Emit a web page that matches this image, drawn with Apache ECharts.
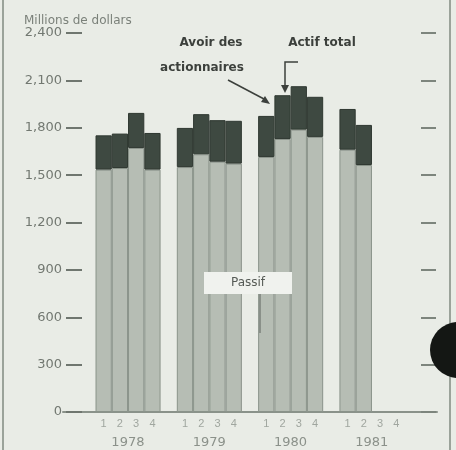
<!DOCTYPE html>
<html>
<head>
<meta charset="utf-8">
<script src="https://cdn.jsdelivr.net/npm/echarts@6/dist/echarts.min.js"></script>
<style>
  html, body { margin: 0; padding: 0; background: #e9ece6; }
  #main { width: 456px; height: 450px; }
</style>
</head>
<body>
<div id="main"></div>
<script>
// valeurs (millions de dollars)
const years = ['1978', '1979', '1980', '1981'];
const quarters = ['1', '2', '3', '4'];
const passif = [
    [1535, 1545, 1672, 1535],
    [1551, 1632, 1585, 1573],
    [1615, 1729, 1788, 1742],
    [1661, 1564, null, null]
];
const avoir = [
    [217, 218, 222, 232],
    [248, 254, 263, 271],
    [260, 277, 275, 254],
    [258, 254, null, null]
];
const yTicks = [0, 300, 600, 900, 1200, 1500, 1800, 2100, 2400];

(function() {
    // axe: 2 cases vides, 4 trimestres par annee separes d'une case vide, 2 cases vides
    let cats = ['', ''], yearCats = ['', ''], passifData = ['-', '-'], avoirData = ['-', '-'];
    years.forEach(function(y, i) {
        quarters.forEach(function(q, j) {
            cats.push(q);
            yearCats.push(j === 1 ? y : '');
            passifData.push(passif[i][j] == null ? '-' : passif[i][j]);
            avoirData.push(avoir[i][j] == null ? '-' : avoir[i][j]);
        });
        if (i < years.length - 1) {
            cats.push(' ');
            yearCats.push('');
            passifData.push('-');
            avoirData.push('-');
        }
    });
    cats.push('', '');
    yearCats.push('', '');
    passifData.push('-', '-');
    avoirData.push('-', '-');

    let font = "'Liberation Sans', Arial, sans-serif";
    let wide = "'DejaVu Sans', sans-serif";
    let chart = echarts.init(document.getElementById('main'));
    let option = {
        backgroundColor: '#e9ece6',
        animation: false,
        title: {
            text: 'Millions de dollars', left: 19, top: 10,
            textStyle: {fontFamily: wide, fontSize: 12, fontWeight: 'normal', color: '#7b817a'}
        },
        grid: {left: 63, right: 19, top: 33, bottom: 38},
        xAxis: [{
            type: 'category', data: cats,
            axisLine: {lineStyle: {color: '#8a928a', width: 2}},
            axisTick: {show: false},
            axisLabel: {interval: 0, margin: 6, fontFamily: font, fontSize: 11, color: '#a0a69f'}
        }, {
            type: 'category', data: yearCats, position: 'bottom',
            axisLine: {show: false}, axisTick: {show: false},
            axisLabel: {interval: 0, margin: 24, padding: [0, 0, 0, 16], fontFamily: wide, fontSize: 13, color: '#8b918a'}
        }],
        yAxis: [{
            type: 'value', min: yTicks[0], max: yTicks[yTicks.length - 1], interval: yTicks[1] - yTicks[0],
            offset: -3,
            axisLine: {show: false},
            axisTick: {show: true, inside: true, length: 16, lineStyle: {color: '#6f766f', width: 2}},
            splitLine: {show: false},
            axisLabel: {
                margin: 4, fontFamily: wide, fontSize: 13, color: '#727871',
                formatter: function(v) { return v.toLocaleString('en-US'); }
            }
        }, {
            type: 'value', position: 'right', min: yTicks[0], max: yTicks[yTicks.length - 1], interval: yTicks[1] - yTicks[0],
            offset: -1,
            axisLine: {show: false},
            axisTick: {show: true, inside: true, length: 15, lineStyle: {color: '#7d857d', width: 2}},
            splitLine: {show: false},
            axisLabel: {show: false}
        }],
        series: [{
            name: 'Passif', type: 'bar', stack: 'actif', data: passifData,
            barCategoryGap: '0%',
            itemStyle: {color: '#b6bdb4', borderColor: '#8a938a', borderWidth: 1, borderRadius: 0}
        }, {
            name: 'Avoir des actionnaires', type: 'bar', stack: 'actif', data: avoirData,
            barCategoryGap: '0%',
            itemStyle: {color: '#3e4941', borderColor: '#2f3831', borderWidth: 1, borderRadius: 0}
        }],
        graphic: [
            {type: 'line', z: 10, shape: {x1: 3, y1: 0, x2: 3, y2: 450}, style: {stroke: '#9ba39a', lineWidth: 2}},
            {type: 'line', z: 10, shape: {x1: 450, y1: 0, x2: 450, y2: 450}, style: {stroke: '#9ba39a', lineWidth: 2}},
            {type: 'text', z: 10, x: 211, y: 43, style: {text: 'Avoir des', font: "bold 12px " + wide, fill: '#3c403c', align: 'center', verticalAlign: 'middle'}},
            {type: 'text', z: 10, x: 202, y: 68, style: {text: 'actionnaires', font: "bold 12px " + wide, fill: '#3c403c', align: 'center', verticalAlign: 'middle'}},
            {type: 'text', z: 10, x: 322, y: 43, style: {text: 'Actif total', font: "bold 12px " + wide, fill: '#3c403c', align: 'center', verticalAlign: 'middle'}},
            {type: 'polyline', z: 10, shape: {points: [[228, 80], [264, 99]]}, style: {stroke: '#3c403c', lineWidth: 1.5}},
            {type: 'polygon', z: 10, shape: {points: [[270, 104], [261, 102], [265, 96]]}, style: {fill: '#3c403c'}},
            {type: 'polyline', z: 10, shape: {points: [[298, 62], [285, 62], [285, 86]]}, style: {stroke: '#3c403c', lineWidth: 1.5}},
            {type: 'polygon', z: 10, shape: {points: [[285, 93], [281, 85], [289, 85]]}, style: {fill: '#3c403c'}},
            {type: 'rect', z: 10, shape: {x: 204, y: 272, width: 88, height: 22}, style: {fill: '#f0f2ee'}},
            {type: 'text', z: 11, x: 248, y: 283, style: {text: 'Passif', font: "12px " + wide, fill: '#555a55', align: 'center', verticalAlign: 'middle'}},
            {type: 'line', z: 10, shape: {x1: 260, y1: 294, x2: 260, y2: 333}, style: {stroke: '#7b827b', lineWidth: 1.5}},
            {type: 'circle', z: 12, shape: {cx: 458, cy: 350, r: 28}, style: {fill: '#141714'}}
        ]
    };
    chart.setOption(option);
})();
</script>
</body>
</html>
